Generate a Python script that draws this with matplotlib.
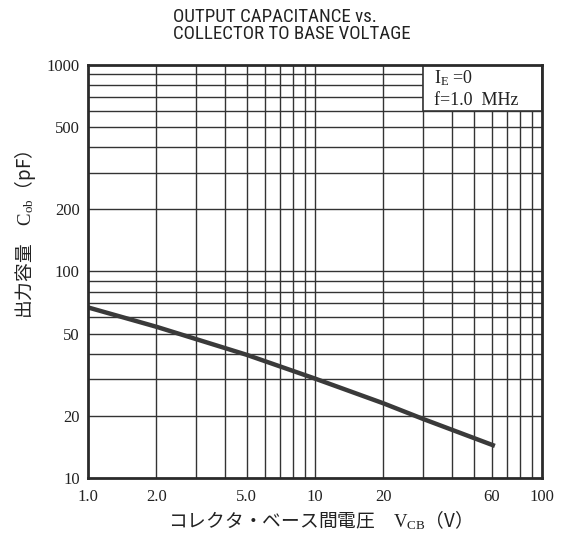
import matplotlib
matplotlib.use("Agg")
import matplotlib.pyplot as plt
from matplotlib.patches import Rectangle
from matplotlib.ticker import FixedLocator, FixedFormatter, NullFormatter

# ---- data ----
vcb = [1.0, 2.0, 5.0, 10, 20, 30, 62]
cob = [67, 54, 39.5, 30.3, 23, 19.3, 14.3]
xticks = [1.0, 2.0, 5.0, 10, 20, 60, 100]
xticklabels = ["1.0", "2.0", "5.0", "10", "20", "60", "100"]
yticks = [10, 20, 50, 100, 200, 500, 1000]
yticklabels = ["10", "20", "50", "100", "200", "500", "1000"]
xgrid = [2, 3, 4, 5, 6, 7, 8, 9, 10, 20, 30, 40, 50, 60, 70, 80, 90]
ygrid = [20, 30, 40, 50, 60, 70, 80, 90, 100, 200, 300, 400, 500, 600, 700, 800, 900]

plt.rcParams['mathtext.fontset'] = 'custom'
plt.rcParams['mathtext.rm'] = 'Liberation Serif'
plt.rcParams['mathtext.it'] = 'Liberation Serif'

SERIF = ['Liberation Serif', 'DejaVu Serif']
CJK = ['Noto Sans CJK JP', 'DejaVu Sans']
INK = '#333333'

fig = plt.figure(figsize=(5.64, 5.36), dpi=100)
ax = fig.add_axes([88/564, 1-478/536, (542-88)/564, (478-65)/536])
ax.set_xscale('log')
ax.set_yscale('log')
ax.set_xlim(1, 100)
ax.set_ylim(10, 1000)

for gx in xgrid:
    ax.axvline(gx, color=INK, lw=1.0, zorder=1)
for gy in ygrid:
    ax.axhline(gy, color=INK, lw=1.0, zorder=1)

ax.add_patch(Rectangle((30, 600), 70, 400, facecolor='white', edgecolor=INK,
                       lw=1.2, zorder=2))

ax.plot(vcb, cob, color='#3a3a3a', lw=3.2, zorder=3, solid_capstyle='butt')

ax.xaxis.set_major_locator(FixedLocator(xticks))
ax.xaxis.set_major_formatter(FixedFormatter(xticklabels))
ax.xaxis.set_minor_locator(FixedLocator([]))
ax.xaxis.set_minor_formatter(NullFormatter())
ax.yaxis.set_major_locator(FixedLocator(yticks))
ax.yaxis.set_major_formatter(FixedFormatter(yticklabels))
ax.yaxis.set_minor_locator(FixedLocator([]))
ax.yaxis.set_minor_formatter(NullFormatter())
ax.tick_params(length=0, labelsize=12, colors='#222222')
ax.tick_params(axis='x', pad=8)
ax.tick_params(axis='y', pad=6)
for lab in ax.get_xticklabels() + ax.get_yticklabels():
    lab.set_family(SERIF)

for s in ax.spines.values():
    s.set_linewidth(2.0)
    s.set_color('#2a2a2a')
    s.set_zorder(4)

ax.text(33.5, 865, r"I$_{\mathrm{E}}$ =0", family=SERIF, fontsize=13,
        color='#222222', zorder=5, va='center')
ax.text(33.5, 676, "f=1.0  MHz", family=SERIF, fontsize=13,
        color='#222222', zorder=5, va='center')

fig.text(173/564, 1-8/536, "OUTPUT CAPACITANCE vs.\nCOLLECTOR TO BASE VOLTAGE",
         family=['Roboto Condensed', 'Liberation Sans Narrow', 'Roboto'], fontsize=13.6,
         ha='left', va='top', color='#222222', linespacing=0.92)

ax.set_ylabel("出力容量　$\\mathrm{C_{ob}}$（pF）", family=CJK, fontsize=13.5,
              color='#222222', va='center')
ax.yaxis.set_label_coords(-0.139, 0.59)
ax.set_xlabel("コレクタ・ベース間電圧　$\\mathrm{V_{CB}}$（V）", family=CJK,
              fontsize=13.5, color='#222222', va='center')
ax.xaxis.set_label_coords(0.5, -0.102)

fig.savefig("out.png", dpi=100, facecolor='white')
